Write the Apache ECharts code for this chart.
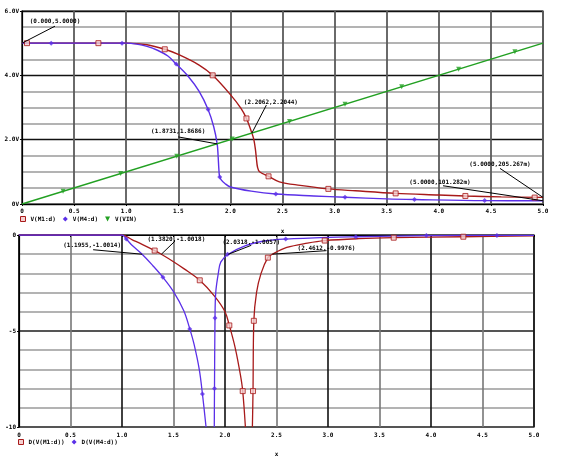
<!DOCTYPE html>
<html>
<head>
<meta charset="utf-8">
<script src="https://cdn.jsdelivr.net/npm/echarts@6/dist/echarts.min.js"></script>
<style>
  html, body { margin: 0; padding: 0; background: #fff; }
  #main { width: 585px; height: 464px; }
</style>
</head>
<body>
<div id="main"></div>
<script>
// top plot: node voltages vs. x
const vinLine = [[0, 0], [5, 5]]
const vinMarks = [[0.394, 0.394], [0.947, 0.947], [1.485, 1.485], [2.017, 2.017], [2.567, 2.567],
    [3.10, 3.10], [3.644, 3.644], [4.19, 4.19], [4.73, 4.73]]

const m1Line = [[0, 5], [1.0, 5], [1.2, 4.95], [1.37, 4.81], [1.5, 4.65], [1.7, 4.32], [1.83, 4.0],
    [2.0, 3.4], [2.1, 2.98], [2.154, 2.66], [2.2062, 2.2044], [2.225, 2.0], [2.24, 1.7], [2.25, 1.4],
    [2.26, 1.15], [2.28, 1.0], [2.366, 0.86], [2.47, 0.69], [2.67, 0.58], [2.94, 0.47], [3.2, 0.41],
    [3.586, 0.33], [4.0, 0.28], [4.255, 0.25], [4.6, 0.22], [5.0, 0.205]]
const m1Marks = [[0.048, 5.0], [0.733, 5.0], [1.37, 4.81], [1.83, 4.0], [2.154, 2.66], [2.366, 0.86],
    [2.94, 0.47], [3.586, 0.33], [4.255, 0.25], [4.92, 0.2]]

const m4Line = [[0, 5], [1.0, 5], [1.1, 4.97], [1.2, 4.9], [1.3, 4.78], [1.4, 4.6], [1.48, 4.35],
    [1.6, 3.95], [1.7, 3.5], [1.786, 2.94], [1.84, 2.4], [1.8731, 1.8686], [1.882, 1.5], [1.889, 1.1],
    [1.895, 0.88], [1.91, 0.76], [1.95, 0.63], [2.0, 0.53], [2.2, 0.4], [2.436, 0.31], [2.8, 0.25],
    [3.10, 0.21], [3.5, 0.16], [3.766, 0.14], [4.44, 0.105], [5.0, 0.101]]
const m4Marks = [[0.28, 5], [0.96, 5], [1.48, 4.35], [1.786, 2.94], [1.898, 0.84], [2.436, 0.31],
    [3.10, 0.21], [3.766, 0.14], [4.44, 0.105]]

// bottom plot: derivatives (null = trace leaves the plot below -10)
const dm1Line = [[0, 0], [1.0, 0], [1.1, -0.25], [1.2, -0.5], [1.317, -0.81], [1.382, -1.0018],
    [1.5, -1.39], [1.6, -1.75], [1.755, -2.36], [1.9, -3.2], [2.0, -4.0], [2.042, -4.71], [2.1, -5.9],
    [2.15, -7.3], [2.172, -8.13], [2.198, -10], [2.23, null], [2.266, -10], [2.272, -8.13], [2.28, -4.47],
    [2.306, -3.0], [2.35, -2.0], [2.416, -1.18], [2.4612, -0.9976], [2.6, -0.65], [2.8, -0.42],
    [2.968, -0.29], [3.3, -0.19], [3.638, -0.14], [4.314, -0.09], [5.0, -0.05]]
const dm1Marks = [[1.317, -0.81], [1.755, -2.36], [2.042, -4.71], [2.172, -8.13], [2.272, -8.13],
    [2.28, -4.47], [2.416, -1.18], [2.968, -0.29], [3.638, -0.14], [4.314, -0.09]]

const dm4Line = [[0, 0], [1.0, 0], [1.042, -0.21], [1.1, -0.55], [1.1955, -1.0014], [1.3, -1.6],
    [1.397, -2.2], [1.5, -2.95], [1.6, -3.95], [1.658, -4.89], [1.7, -5.7], [1.75, -7.0], [1.781, -8.28],
    [1.816, -10], [1.86, null], [1.896, -10], [1.898, -8.0], [1.903, -4.32], [1.91, -3.0], [1.935, -2.0],
    [1.96, -1.4], [2.0318, -1.0057], [2.2, -0.55], [2.4, -0.3], [2.589, -0.21], [3.0, -0.12],
    [3.27, -0.09], [3.955, -0.03], [4.64, -0.02], [5.0, -0.015]]
const dm4Marks = [[1.042, -0.21], [1.397, -2.2], [1.658, -4.89], [1.781, -8.28], [1.898, -8.0],
    [1.903, -4.32], [2.025, -1.0], [2.589, -0.21], [3.27, -0.09], [3.955, -0.03], [4.64, -0.02]]

const topYTicks = [0, 2, 4, 6]
const topYLabels = ['0V', '2.0V', '4.0V', '6.0V']
const botYTicks = [-10, -5, 0]
const botYLabels = ['-10', '-5', '0']

// cursor readouts: [grid, x, y, text]
const notes = [
    [0, 0, 5.0, '(0.000,5.0000)'],
    [0, 1.8731, 1.8686, '(1.8731,1.8686)'],
    [0, 2.2062, 2.2044, '(2.2062,2.2044)'],
    [0, 5.0, 0.205267, '(5.0000,205.267m)'],
    [0, 5.0, 0.101282, '(5.0000,101.282m)'],
    [1, 1.1955, -1.0014, '(1.1955,-1.0014)'],
    [1, 1.3820, -1.0018, '(1.3820,-1.0018)'],
    [1, 2.0318, -1.0057, '(2.0318,-1.0057)'],
    [1, 2.4612, -0.9976, '(2.4612,-0.9976)']
]
// pixel offsets of each readout: text centre and leader start
const noteLayout = [
    [33, -22, 33, -17],
    [-39, -12, -39, -7],
    [19, -31, 14.5, -28],
    [-43, -33, -43, -29],
    [-103, -18.5, -100, -15],
    [-50, -9, -49, -4.5],
    [15, -15, 13.5, -13],
    [23, -12, 23, -9],
    [54, -6, 54, -3.5]
]

const RED = '#a81a1a'
const PINK = '#f4d0d0'
const BLUE = '#5b30e8'
const GREEN = '#22a022'
const FONT = 'DejaVu Sans Mono'
const small = { fontFamily: FONT, fontSize: 6, fontWeight: 'bold', color: '#000' }
const TRI_DOWN = 'path://M0,0L10,0L5,10Z'

const main = document.getElementById('main')
let myChart = echarts.init(main)

function xLabel(v) {
    return v === 0 ? '0' : v.toFixed(1)
}

function yLabelFrom(ticks, labels) {
    return v => {
        const i = ticks.findIndex(t => Math.abs(t - v) < 1e-9)
        return i < 0 ? '' : labels[i]
    }
}

function curve(name, data, color, grid, width) {
    return {
        name: name, type: 'line', xAxisIndex: grid, yAxisIndex: grid, data: data,
        showSymbol: false, smooth: 0.35, connectNulls: false,
        lineStyle: { color: color, width: width }, itemStyle: { color: color },
        silent: true, animation: false, z: 3
    }
}

function marks(name, data, grid, symbol, opts) {
    return Object.assign({
        name: name, type: 'scatter', xAxisIndex: grid, yAxisIndex: grid, data: data,
        symbol: symbol, symbolSize: 5, animation: false, z: 4
    }, opts)
}

const squareStyle = { color: PINK, borderColor: RED, borderWidth: 1 }

myChart.setOption({
    backgroundColor: '#fff',
    animation: false,
    grid: [
        { left: 22, top: 11, width: 521, height: 193, show: true, borderColor: '#111', borderWidth: 1.2 },
        { left: 19, top: 235, width: 515, height: 192, show: true, borderColor: '#555', borderWidth: 1.5 }
    ],
    legend: [
        {
            left: 20, top: 216, itemWidth: 5, itemHeight: 5, itemGap: 7, padding: 0,
            textStyle: small,
            data: [
                { name: 'V(M1:d)', icon: 'rect', itemStyle: squareStyle },
                { name: 'V(M4:d)', icon: 'diamond', itemStyle: { color: BLUE } },
                { name: 'V(VIN)', icon: TRI_DOWN, itemStyle: { color: GREEN } }
            ]
        },
        {
            left: 18, top: 439, itemWidth: 5, itemHeight: 5, itemGap: 7, padding: 0,
            textStyle: small,
            data: [
                { name: 'D(V(M1:d))', icon: 'rect', itemStyle: squareStyle },
                { name: 'D(V(M4:d))', icon: 'diamond', itemStyle: { color: BLUE } }
            ]
        }
    ],
    xAxis: [
        {
            type: 'value', gridIndex: 0, min: 0, max: 5, interval: 0.5,
            name: 'x', nameLocation: 'middle', nameGap: 24, nameTextStyle: small,
            axisLine: { lineStyle: { color: '#000', width: 1.2 } },
            axisTick: { show: true, length: 2, lineStyle: { color: '#000' } },
            axisLabel: Object.assign({ formatter: xLabel, margin: 4 }, small),
            splitLine: { show: true, lineStyle: { color: '#5a5a5a', width: 1.8 } }
        },
        {
            type: 'value', gridIndex: 1, min: 0, max: 5, interval: 0.5,
            name: 'x', nameLocation: 'middle', nameGap: 24, nameTextStyle: small,
            axisLine: { lineStyle: { color: '#000', width: 1.2 } },
            axisTick: { show: true, length: 2, lineStyle: { color: '#000' } },
            axisLabel: Object.assign({ formatter: xLabel, margin: 5 }, small),
            splitLine: { show: true, lineStyle: { color: ['#111', '#777'], width: 1.6 } }
        }
    ],
    yAxis: [
        {
            type: 'value', gridIndex: 0, min: 0, max: 6, interval: 2,
            axisLine: { show: true, lineStyle: { color: '#000', width: 1.2 } },
            axisTick: { show: true, length: 2, lineStyle: { color: '#000' } },
            axisLabel: Object.assign({ formatter: yLabelFrom(topYTicks, topYLabels), margin: 3 }, small),
            splitLine: { show: true, lineStyle: { color: '#111', width: 1.4 } },
            minorTick: { show: false, splitNumber: 4 },
            minorSplitLine: { show: true, lineStyle: { color: '#9a9a9a', width: 1.6 } }
        },
        {
            type: 'value', gridIndex: 1, min: -10, max: 0, interval: 5,
            axisLine: { show: true, lineStyle: { color: '#000', width: 1.2 } },
            axisTick: { show: true, length: 2, lineStyle: { color: '#000' } },
            axisLabel: Object.assign({ formatter: yLabelFrom(botYTicks, botYLabels), margin: 3 }, small),
            splitLine: { show: true, lineStyle: { color: '#555', width: 1.8 } },
            minorTick: { show: false, splitNumber: 5 },
            minorSplitLine: { show: true, lineStyle: { color: '#9a9a9a', width: 1.6 } }
        }
    ],
    series: [
        curve('V(M1:d)', m1Line, RED, 0, 1.4),
        curve('V(M4:d)', m4Line, BLUE, 0, 1.4),
        curve('V(VIN)', vinLine, GREEN, 0, 1.4),
        marks('V(M1:d)', m1Marks, 0, 'rect', { itemStyle: squareStyle }),
        marks('V(M4:d)', m4Marks, 0, 'diamond', { itemStyle: { color: BLUE } }),
        marks('V(VIN)', vinMarks, 0, TRI_DOWN, { itemStyle: { color: GREEN } }),
        curve('D(V(M1:d))', dm1Line, RED, 1, 1.3),
        curve('D(V(M4:d))', dm4Line, BLUE, 1, 1.3),
        marks('D(V(M1:d))', dm1Marks, 1, 'rect', { itemStyle: squareStyle }),
        marks('D(V(M4:d))', dm4Marks, 1, 'diamond', { itemStyle: { color: BLUE } })
    ]
})

// readout labels with leader lines, placed from their data points
let graphics = []
notes.forEach((n, i) => {
    const p = myChart.convertToPixel({ gridIndex: n[0] }, [n[1], n[2]])
    const o = noteLayout[i]
    graphics.push({
        type: 'line', silent: true, z: 10,
        shape: { x1: p[0] + o[2], y1: p[1] + o[3], x2: p[0], y2: p[1] },
        style: { stroke: '#000', lineWidth: 1 }
    })
    graphics.push({
        type: 'text', silent: true, z: 11,
        x: p[0] + o[0], y: p[1] + o[1],
        style: {
            text: n[3], fill: '#000', font: 'bold 6px "' + FONT + '"',
            align: 'center', verticalAlign: 'middle'
        }
    })
})
myChart.setOption({ graphic: graphics })
</script>
</body>
</html>
